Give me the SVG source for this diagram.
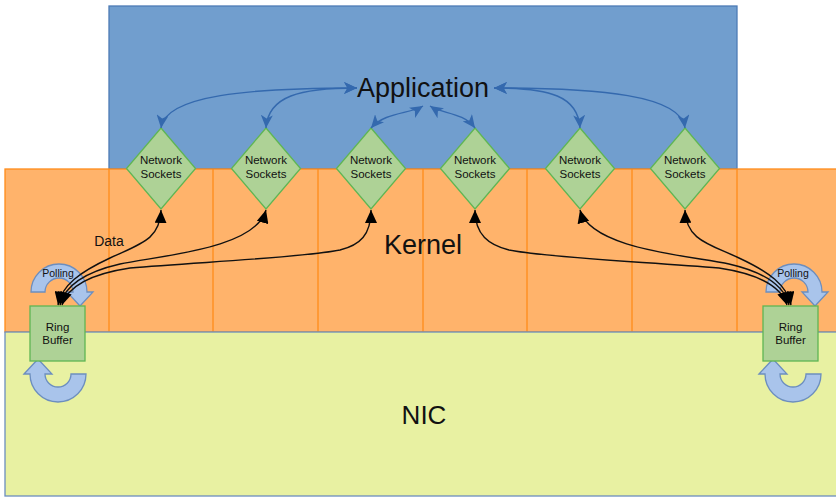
<svg xmlns="http://www.w3.org/2000/svg" width="836" height="498" viewBox="0 0 836 498">
<style>
text{font-family:"Liberation Sans",Arial,sans-serif;fill:#111;text-anchor:middle}
.sock{fill:#AED296;stroke:#5FB653;stroke-width:1.3}
.ring{fill:#AED296;stroke:#5FB653;stroke-width:1.3}
.poll{fill:#A9C4EB;stroke:#6C8EBF;stroke-width:1.3}
.blk{fill:none;stroke:#111;stroke-width:1.4}
.blu{fill:none;stroke:#3469AE;stroke-width:1.4}
.col{stroke:#FF8C1A;stroke-width:1.3}
.st{font-size:11.5px}
</style>
<defs>
<marker id="ba" markerUnits="userSpaceOnUse" markerWidth="14" markerHeight="12" viewBox="0 0 14 12" refX="13" refY="6" orient="auto-start-reverse">
<path d="M0,0 L13,6 L0,12 Z" fill="#000"/>
</marker>
<marker id="ca" markerUnits="userSpaceOnUse" markerWidth="14" markerHeight="12" viewBox="0 0 14 12" refX="13" refY="6" orient="auto-start-reverse">
<path d="M0,0 L13,6 L0,12 L3.5,6 Z" fill="#3469AE"/>
</marker>
</defs>

<g id="application">
<rect x="109" y="6" width="628" height="163" fill="#719ECE" stroke="#4D7BB5" stroke-width="1.3"/>
</g>
<g id="kernel">
<rect x="5" y="169" width="840" height="163" fill="#FFB36B" stroke="#FF8C1A" stroke-width="1.3"/>
<path class="col" d="M109,169V332M213,169V332M318,169V332M423,169V332M527,169V332M632,169V332M737,169V332"/>
</g>
<g id="nic">
<rect x="5" y="332" width="840" height="164" fill="#E8F1A2" stroke="#6C8EBF" stroke-width="1.3"/>
</g>

<g id="polling-left">
<path class="poll" d="M31,292 A28,28 0 0 1 87,292 L93,292 L80,306 L67,292 L73,292 A14,14 0 0 0 45,292 Z"/>
</g>
<g id="cycle-left">
<path class="poll" d="M24,374 L38,359 L52,374 L45,374 A13,13 0 0 0 71,374 L86,374 A28,28 0 0 1 30,374 Z"/>
</g>
<g id="polling-right">
<path class="poll" d="M766,292 A28,28 0 0 1 822,292 L828,292 L815,306 L802,292 L808,292 A14,14 0 0 0 780,292 Z"/>
</g>
<g id="cycle-right">
<path class="poll" d="M759,374 L773,359 L787,374 L780,374 A13,13 0 0 0 806,374 L821,374 A28,28 0 0 1 765,374 Z"/>
</g>

<g id="ring-buffer-left">
<rect class="ring" x="30" y="306" width="55" height="55"/>
<text class="st" x="57.5" y="331">Ring</text>
<text class="st" x="57.5" y="344">Buffer</text>
</g>
<g id="ring-buffer-right">
<rect class="ring" x="763" y="306" width="55" height="55"/>
<text class="st" x="790.5" y="331">Ring</text>
<text class="st" x="790.5" y="344">Buffer</text>
</g>

<g id="socket-1"><path class="sock" d="M161,128 L195.5,168.5 L161,209 L126.5,168.5 Z"/><text class="st" x="161" y="164">Network</text><text class="st" x="161" y="178">Sockets</text></g>
<g id="socket-2"><path class="sock" d="M266,128 L300.5,168.5 L266,209 L231.5,168.5 Z"/><text class="st" x="266" y="164">Network</text><text class="st" x="266" y="178">Sockets</text></g>
<g id="socket-3"><path class="sock" d="M371,128 L405.5,168.5 L371,209 L336.5,168.5 Z"/><text class="st" x="371" y="164">Network</text><text class="st" x="371" y="178">Sockets</text></g>
<g id="socket-4"><path class="sock" d="M475,128 L509.5,168.5 L475,209 L440.5,168.5 Z"/><text class="st" x="475" y="164">Network</text><text class="st" x="475" y="178">Sockets</text></g>
<g id="socket-5"><path class="sock" d="M580,128 L614.5,168.5 L580,209 L545.5,168.5 Z"/><text class="st" x="580" y="164">Network</text><text class="st" x="580" y="178">Sockets</text></g>
<g id="socket-6"><path class="sock" d="M685,128 L719.5,168.5 L685,209 L650.5,168.5 Z"/><text class="st" x="685" y="164">Network</text><text class="st" x="685" y="178">Sockets</text></g>

<g id="connectors">
<path class="blu" marker-start="url(#ca)" marker-end="url(#ca)" d="M357,88 C 250,88 165,95 161,128"/>
<path class="blu" marker-start="url(#ca)" marker-end="url(#ca)" d="M357,88 C 300,88 268,96 266,128"/>
<path class="blu" marker-start="url(#ca)" marker-end="url(#ca)" d="M423,106 C 410,114 385,112 371,128"/>
<path class="blu" marker-start="url(#ca)" marker-end="url(#ca)" d="M430,106 C 442,114 463,112 475,128"/>
<path class="blu" marker-start="url(#ca)" marker-end="url(#ca)" d="M494,88 C 550,88 578,96 580,128"/>
<path class="blu" marker-start="url(#ca)" marker-end="url(#ca)" d="M494,88 C 600,88 681,95 685,128"/>

<path class="blk" marker-start="url(#ba)" marker-end="url(#ba)" d="M58,305 C 62,285 80,272 110,258 S 160,240 161,210"/>
<path class="blk" marker-start="url(#ba)" marker-end="url(#ba)" d="M60,305 C 65,285 85,272 120,264 S 255,250 266,210"/>
<path class="blk" marker-start="url(#ba)" marker-end="url(#ba)" d="M62,305 C 68,286 90,274 130,268 C 200,262 300,258 340,250 C 360,245 371,235 371,210"/>
<path class="blk" marker-start="url(#ba)" marker-end="url(#ba)" d="M787,305 C 781,286 759,274 719,268 C 649,262 549,258 509,250 C 489,245 475,235 475,210"/>
<path class="blk" marker-start="url(#ba)" marker-end="url(#ba)" d="M789,305 C 784,285 764,272 729,264 S 591,250 580,210"/>
<path class="blk" marker-start="url(#ba)" marker-end="url(#ba)" d="M791,305 C 787,285 769,272 739,258 S 686,240 685,210"/>
<text x="109" y="246" font-size="14px">Data</text>
</g>

<g id="labels">
<text x="423" y="97" font-size="27px">Application</text>
<text x="423" y="254" font-size="27px">Kernel</text>
<text x="424" y="424" font-size="26px">NIC</text>
<text x="58" y="277" font-size="10.5px">Polling</text>
<text x="793" y="277" font-size="10.5px">Polling</text>
</g>
</svg>
